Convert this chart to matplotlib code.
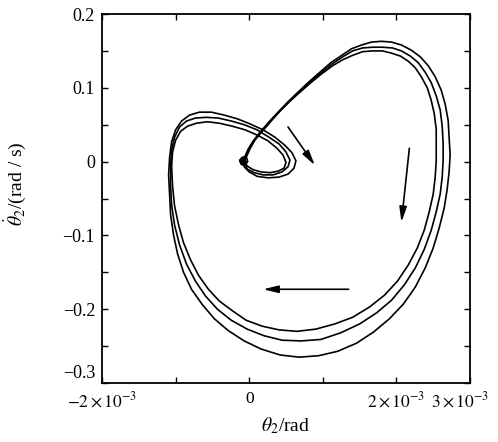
import matplotlib
matplotlib.use('Agg')
import matplotlib.pyplot as plt
import matplotlib.transforms as mtransforms
from matplotlib.ticker import MultipleLocator

plt.rcParams['font.family'] = ['Liberation Serif', 'DejaVu Serif']
plt.rcParams['mathtext.fontset'] = 'stix'

# theta_2 in units of 1e-3 rad, theta_2 dot in rad/s
# initial spiral around the equilibrium
x0 = [-0.12, -0.09, -0.04, -0.02, -0.06, -0.11, -0.13, -0.10, -0.05, -0.068]
y0 = [0.000, 0.006, 0.007, 0.000, -0.005, -0.003, 0.002, 0.005, 0.004, 0.001]

# inner circuit
x1 = [-0.068, -0.027, 0.014, 0.081, 0.176, 0.297, 0.419, 0.554, 0.689, 0.838,
      0.986, 1.135, 1.270, 1.405, 1.541, 1.676, 1.811, 1.932, 2.054, 2.162,
      2.257, 2.338, 2.419, 2.473, 2.514, 2.541, 2.541, 2.541, 2.527, 2.500,
      2.446, 2.378, 2.284, 2.162, 2.014, 1.838, 1.635, 1.405, 1.162, 0.905,
      0.649, 0.405, 0.176, -0.041, -0.230, -0.405, -0.554, -0.689, -0.797, -0.892,
      -0.959, -1.014, -1.041, -1.054, -1.041, -1.000, -0.932, -0.838, -0.716, -0.568,
      -0.405, -0.230, -0.054, 0.108, 0.257, 0.378, 0.459, 0.500, 0.473, 0.392,
      0.284, 0.162, 0.054, -0.027, -0.068]
y1 = [0.001, 0.009, 0.018, 0.030, 0.041, 0.055, 0.069, 0.082, 0.094, 0.107,
      0.119, 0.130, 0.138, 0.144, 0.149, 0.150, 0.150, 0.147, 0.143, 0.136,
      0.127, 0.115, 0.100, 0.083, 0.065, 0.044, 0.022, 0.001, -0.021, -0.044,
      -0.068, -0.093, -0.117, -0.140, -0.162, -0.181, -0.197, -0.211, -0.220, -0.227,
      -0.230, -0.228, -0.223, -0.215, -0.202, -0.189, -0.173, -0.154, -0.133, -0.110,
      -0.086, -0.060, -0.033, -0.006, 0.013, 0.029, 0.041, 0.048, 0.052, 0.054,
      0.052, 0.048, 0.043, 0.036, 0.028, 0.018, 0.009, -0.001, -0.009, -0.013,
      -0.015, -0.014, -0.011, -0.006, 0.001]

# middle circuit
x2 = [-0.068, -0.041, 0.000, 0.068, 0.162, 0.284, 0.405, 0.541, 0.676, 0.824,
      0.973, 1.122, 1.270, 1.405, 1.541, 1.676, 1.811, 1.946, 2.068, 2.189,
      2.297, 2.392, 2.473, 2.541, 2.595, 2.622, 2.635, 2.635, 2.622, 2.595,
      2.541, 2.473, 2.378, 2.257, 2.108, 1.932, 1.730, 1.500, 1.243, 0.973,
      0.703, 0.446, 0.203, -0.027, -0.243, -0.432, -0.595, -0.730, -0.851, -0.946,
      -1.014, -1.054, -1.068, -1.068, -1.054, -1.014, -0.946, -0.851, -0.730, -0.581,
      -0.419, -0.243, -0.068, 0.108, 0.270, 0.405, 0.500, 0.554, 0.527, 0.446,
      0.324, 0.189, 0.068, -0.027, -0.068]
y2 = [-0.001, 0.008, 0.017, 0.028, 0.040, 0.054, 0.067, 0.081, 0.094, 0.108,
      0.120, 0.132, 0.142, 0.150, 0.154, 0.155, 0.155, 0.154, 0.150, 0.143,
      0.134, 0.121, 0.107, 0.089, 0.070, 0.048, 0.025, 0.002, -0.021, -0.044,
      -0.068, -0.093, -0.119, -0.144, -0.167, -0.188, -0.205, -0.220, -0.232, -0.241,
      -0.243, -0.242, -0.236, -0.227, -0.215, -0.200, -0.182, -0.162, -0.139, -0.113,
      -0.086, -0.059, -0.032, -0.005, 0.016, 0.033, 0.047, 0.055, 0.059, 0.060,
      0.059, 0.055, 0.050, 0.043, 0.033, 0.024, 0.013, 0.002, -0.007, -0.014,
      -0.018, -0.018, -0.015, -0.010, -0.001]

# outer circuit
x3 = [-0.081, -0.054, -0.014, 0.054, 0.149, 0.270, 0.392, 0.527, 0.662, 0.811,
      0.959, 1.108, 1.257, 1.392, 1.527, 1.662, 1.797, 1.932, 2.068, 2.203,
      2.324, 2.432, 2.527, 2.608, 2.662, 2.703, 2.716, 2.730, 2.716, 2.689,
      2.649, 2.581, 2.500, 2.392, 2.257, 2.095, 1.905, 1.689, 1.459, 1.203,
      0.946, 0.676, 0.419, 0.162, -0.068, -0.284, -0.473, -0.635, -0.784, -0.892,
      -0.973, -1.027, -1.068, -1.081, -1.095, -1.081, -1.054, -1.000, -0.919, -0.811,
      -0.676, -0.514, -0.338, -0.162, 0.014, 0.189, 0.351, 0.486, 0.581, 0.635,
      0.608, 0.527, 0.405, 0.257, 0.108, 0.000, -0.068, -0.081]
y3 = [-0.001, 0.008, 0.017, 0.028, 0.040, 0.054, 0.067, 0.081, 0.094, 0.108,
      0.121, 0.134, 0.144, 0.153, 0.158, 0.162, 0.163, 0.162, 0.158, 0.151,
      0.142, 0.130, 0.115, 0.097, 0.078, 0.056, 0.033, 0.009, -0.014, -0.038,
      -0.063, -0.090, -0.117, -0.144, -0.170, -0.193, -0.213, -0.231, -0.246, -0.257,
      -0.263, -0.265, -0.262, -0.254, -0.243, -0.229, -0.213, -0.194, -0.173, -0.150,
      -0.125, -0.100, -0.072, -0.045, -0.018, 0.006, 0.027, 0.043, 0.055, 0.063,
      0.067, 0.067, 0.063, 0.058, 0.051, 0.043, 0.033, 0.022, 0.012, 0.001,
      -0.009, -0.017, -0.021, -0.022, -0.020, -0.014, -0.007, -0.001]

# direction arrows: (tail x, tail y, head x, head y)
arrows = [(0.527, 0.047, 0.892, -0.005),
          (2.176, 0.018, 2.068, -0.082),
          (1.351, -0.173, 0.189, -0.173)]

xticks = [-2, -1, 0, 1, 2, 3]
xticklabels = [r'$-2\times10^{-3}$', '', '0', '', r'$2\times10^{-3}$', r'$3\times10^{-3}$']
yticks = [-0.3, -0.2, -0.1, 0, 0.1, 0.2]
yticklabels = ['\u22120.3', '\u22120.2', '\u22120.1', '0', '0.1', '0.2']

fig = plt.figure(figsize=(4.98, 4.42), dpi=100)
ax = fig.add_axes([0.2048, 0.1335, 0.7390, 0.8348])

for xs, ys in [(x0, y0), (x1, y1), (x2, y2), (x3, y3)]:
    ax.plot([v * 1e-3 for v in xs], ys, color='black', lw=1.2,
            solid_joinstyle='round')
ax.plot(x0[0] * 1e-3 + 0.04e-3, y0[0], 'o', color='black', ms=4)

for tx, ty, hx, hy in arrows:
    ax.annotate('', xy=(hx * 1e-3, hy), xytext=(tx * 1e-3, ty),
                arrowprops=dict(arrowstyle='-|>,head_length=0.9,head_width=0.22',
                                color='black', lw=1.2, shrinkA=0, shrinkB=0))

ax.set_xlim(-2e-3, 3e-3)
ax.set_ylim(-0.3, 0.2)
ax.set_xticks([v * 1e-3 for v in xticks])
ax.set_xticklabels(xticklabels)
ax.set_yticks(yticks)
ax.set_yticklabels(yticklabels)
ax.yaxis.set_minor_locator(MultipleLocator(0.05))
ax.tick_params(which='both', direction='in', top=True, right=True,
               labelsize=13, length=4, width=1, pad=5)
ax.tick_params(axis='x', pad=6, labelsize=12.5)
for s in ax.spines.values():
    s.set_linewidth(1.3)

# lift the lowest y label clear of the x labels
lbl = ax.get_yticklabels()[0]
lbl.set_transform(lbl.get_transform() +
                  mtransforms.ScaledTranslation(0, 8 / 72, fig.dpi_scale_trans))
# keep the last x label inside the figure
lbl = ax.get_xticklabels()[-1]
lbl.set_transform(lbl.get_transform() +
                  mtransforms.ScaledTranslation(-7 / 72, 0, fig.dpi_scale_trans))

ax.set_xlabel(r'$\theta_2$/rad', fontsize=14, labelpad=3)
ax.set_ylabel(r'$\dot{\theta}_2$/(rad / s)', fontsize=14)
ax.yaxis.set_label_coords(-0.2, 0.54)

fig.savefig('out.png', dpi=100)
